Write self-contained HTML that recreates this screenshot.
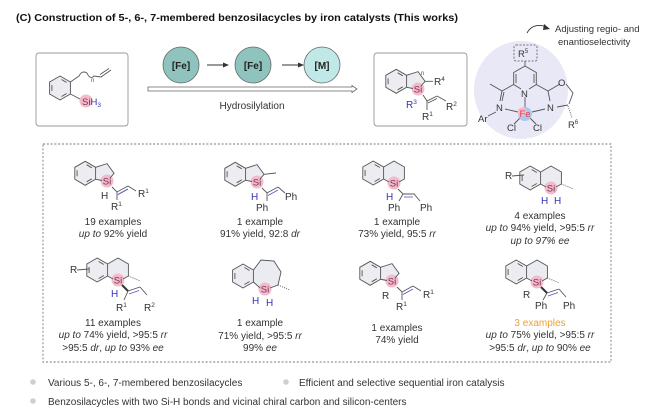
<!DOCTYPE html>
<html><head><meta charset="utf-8"><style>
html,body{margin:0;padding:0;background:#fff;}
svg{display:block;font-family:"Liberation Sans",Arial,sans-serif;}
</style></head><body>
<svg width="665" height="413" viewBox="0 0 665 413" xmlns="http://www.w3.org/2000/svg">
<defs>
<g id="bz"><polygon points="0,-12 10.4,-6 10.4,6 0,12 -10.4,6 -10.4,-6" fill="#ececf1" stroke="#555" stroke-width="0.9"/>
<path d="M1.5,-8.5L6.6,-5.5M6.6,5.5L1.5,8.5M-8.1,3L-8.1,-3" stroke="#555" stroke-width="0.9"/></g>
<g id="t5"><polygon points="-11.4,-15.7 0,-19.4 7.1,-9.7 0,0 -11.4,-3.7" fill="#ebebf2"/>
<use href="#bz" x="-21.8" y="-9.7"/><circle cx="0" cy="-2" r="6.5" fill="#f6b9ca"/>
<path d="M-11.4,-15.7L0,-19.4L7.1,-9.7L3,-5M-11.4,-3.7L-5,-2.5" fill="none" stroke="#555" stroke-width="0.9"/>
<text x="0" y="1.5" font-size="9.5" text-anchor="middle" fill="#6b3357">Si</text></g>
<g id="t6"><polygon points="-10.4,-18 0,-24 10.4,-18 10.4,-6 0,0 -10.4,-6" fill="#ebebf2"/>
<use href="#bz" x="-20.8" y="-12"/><circle cx="0" cy="-2" r="6.5" fill="#f6b9ca"/>
<path d="M-10.4,-18L0,-24L10.4,-18L10.4,-6L5,-3M-10.4,-6L-5,-3" fill="none" stroke="#555" stroke-width="0.9"/>
<text x="0" y="1.5" font-size="9.5" text-anchor="middle" fill="#6b3357">Si</text></g>
<g id="t7"><polygon points="-11.6,-21 -4,-31 9,-30 16,-19 13,-6 0,0 -11.6,-9" fill="#ebebf2"/>
<use href="#bz" x="-22" y="-15"/><circle cx="0" cy="-2" r="6.5" fill="#f6b9ca"/>
<path d="M-11.6,-21L-4,-31L9,-30L16,-19L13,-6L5,-3M-11.6,-9L-5,-3" fill="none" stroke="#555" stroke-width="0.9"/>
<text x="0" y="1.5" font-size="9.5" text-anchor="middle" fill="#6b3357">Si</text></g>
<g id="hm"><path d="M0,0L12,5" stroke="#555" stroke-width="0.9" stroke-dasharray="1,1.2"/></g>
</defs>

<text x="16" y="21" font-size="10.5" font-weight="bold" fill="#111" textLength="442" lengthAdjust="spacingAndGlyphs">(C) Construction of 5-, 6-, 7-membered benzosilacycles by iron catalysts (This works)</text>

<!-- box1 -->
<rect x="36" y="53" width="92" height="73" rx="3" fill="#fff" stroke="#999" stroke-width="0.9"/>
<use href="#bz" x="60" y="88"/>
<circle cx="86" cy="101" r="6.5" fill="#f6b9ca"/>
<text x="82" y="105" font-size="9.5" fill="#6b3357">Si<tspan fill="#3333bb">H</tspan><tspan fill="#3333bb" font-size="6.5" dy="2">3</tspan></text>
<path d="M70.4,82L79,76M79,76Q82,70 87,73M87,73Q90,80 94,76L101,77L111,70M100,74.5L109,68.5" fill="none" stroke="#555" stroke-width="0.9"/>
<text x="91" y="82" font-size="6" fill="#555">n</text>
<path d="M70.4,94L80,99" stroke="#555" stroke-width="0.9"/>

<!-- circles -->
<circle cx="181" cy="65" r="18" fill="#8fc3bd" stroke="#666" stroke-width="0.8"/>
<text x="181" y="69" font-size="10" font-weight="bold" text-anchor="middle" fill="#222">[Fe]</text>
<circle cx="253" cy="65" r="18" fill="#8fc3bd" stroke="#666" stroke-width="0.8"/>
<text x="253" y="69" font-size="10" font-weight="bold" text-anchor="middle" fill="#222">[Fe]</text>
<circle cx="322" cy="65" r="18" fill="#bfe8e6" stroke="#666" stroke-width="0.8"/>
<text x="322" y="69" font-size="10" font-weight="bold" text-anchor="middle" fill="#222">[M]</text>
<path d="M207,65L225,65M282,65L300,65" stroke="#333" stroke-width="0.9"/>
<path d="M229,65L223,62.5L223,67.5ZM304,65L298,62.5L298,67.5Z" fill="#333"/>
<path d="M148,87L352,87L352,85.5L357,89L352,92.5L352,91L148,91Z" fill="#fff" stroke="#666" stroke-width="0.8"/>
<text x="252" y="109" font-size="10" text-anchor="middle" fill="#333">Hydrosilylation</text>

<!-- box2 -->
<rect x="374" y="53" width="93" height="73" rx="3" fill="#fff" stroke="#999" stroke-width="0.9"/>
<g transform="translate(418,91)"><use href="#t5"/>
<path d="M7.1,-9.7L15,-9.7M5,4L9,10L19,5M10,12L19,7.5M19,5L28,10M9,10L9,19" fill="none" stroke="#555" stroke-width="0.9"/>
<text x="3" y="-16" font-size="6" fill="#555">n</text>
<text x="16" y="-6" font-size="10" fill="#333">R<tspan font-size="6.5" dy="-4">4</tspan></text>
<text x="-12" y="17" font-size="10" fill="#3333bb">R<tspan font-size="6.5" dy="-4">3</tspan></text>
<text x="4" y="29" font-size="10" fill="#333">R<tspan font-size="6.5" dy="-4">1</tspan></text>
<text x="28" y="19" font-size="10" fill="#333">R<tspan font-size="6.5" dy="-4">2</tspan></text></g>

<!-- ligand -->
<ellipse cx="521" cy="90" rx="47" ry="49" fill="#e8e8f6"/>
<path d="M527,33Q533,22 547,27" fill="none" stroke="#333" stroke-width="0.9"/>
<path d="M550,29L544,24L543,30Z" fill="#333"/>
<text x="555" y="32" font-size="9.5" fill="#333">Adjusting regio- and</text>
<text x="558" y="45" font-size="9.5" fill="#333">enantioselectivity</text>
<rect x="514" y="45" width="23" height="16" rx="2" fill="none" stroke="#555" stroke-width="0.8" stroke-dasharray="2,1.5"/>
<text x="518" y="57" font-size="9.5" fill="#333">R<tspan font-size="6" dy="-4">5</tspan></text>
<path d="M525,61L525,66L536.3,72.5L536.3,84.5L529,89M525,66L513.7,72.5L513.7,84.5L521,89M516,74L516,83M534,74L534,83M513.7,84.5L502,91L490,84M502,91L500,101M504,92L502,101M536.3,84.5L548,91L560,84M548,91L550,101M566,84L573,93L569,104M525,97L525,107M505,109L518,112M545,109L532,112M521,117L514,124M529,117L536,124M496,112L488,116M557,107L568,105" fill="none" stroke="#555" stroke-width="0.9"/>
<path d="M568,106L572,118" stroke="#555" stroke-width="0.9" stroke-dasharray="1,1.2"/>
<text x="521" y="97" font-size="9.5" fill="#333">N</text>
<text x="496" y="111" font-size="9.5" fill="#333">N</text>
<text x="547" y="111" font-size="9.5" fill="#333">N</text>
<text x="558" y="86" font-size="9.5" fill="#333">O</text>
<circle cx="525" cy="114" r="7" fill="#a9c9ef"/><circle cx="522" cy="112" r="4.5" fill="#f6b9ca"/>
<text x="525" y="117" font-size="9.5" text-anchor="middle" fill="#e04050">Fe</text>
<text x="478" y="122" font-size="9.5" fill="#333">Ar</text>
<text x="507" y="131" font-size="9.5" fill="#333">Cl</text>
<text x="533" y="131" font-size="9.5" fill="#333">Cl</text>
<text x="568" y="128" font-size="9.5" fill="#333">R<tspan font-size="6" dy="-4">6</tspan></text>

<!-- dashed box -->
<rect x="43" y="144" width="568" height="218" fill="none" stroke="#777" stroke-width="0.9" stroke-dasharray="2,1.8"/>

<g font-size="10" fill="#333">
<!-- r1c1 -->
<g transform="translate(107,183)"><use href="#t5"/>
<path d="M5,4L10,9L21,3M11,11.5L21,6M21,3L29,8M10,9L10,17" fill="none" stroke="#555" stroke-width="0.9"/>
<path d="M11,11.5L21,6" stroke="#5555cc" stroke-width="0.8"/>
<text x="-6" y="16">H</text><text x="31" y="14">R<tspan font-size="6.5" dy="-4">1</tspan></text>
<text x="4" y="27">R<tspan font-size="6.5" dy="-4">1</tspan></text></g>
<!-- r1c2 -->
<g transform="translate(257,184)"><use href="#t5"/>
<path d="M7.1,-9.7L19,-11M5,4L10,9L21,3M21,3L28,9M10,9L10,17" fill="none" stroke="#555" stroke-width="0.9"/>
<path d="M11,11.5L21,6" stroke="#5555cc" stroke-width="0.8"/>
<text x="-6" y="16" fill="#3333bb">H</text><text x="28" y="16">Ph</text><text x="-1" y="27">Ph</text></g>
<!-- r1c3 -->
<g transform="translate(394,185)"><use href="#t6"/>
<path d="M4,4L9,9L20,9L26,16M9,9L5,16" fill="none" stroke="#555" stroke-width="0.9"/>
<path d="M10,12L19,12" stroke="#5555cc" stroke-width="0.8"/>
<text x="-8" y="15" fill="#3333bb">H</text><text x="-6" y="26">Ph</text><text x="26" y="26">Ph</text></g>
<!-- r1c4 -->
<g transform="translate(551,190)"><use href="#t6"/><use href="#hm" x="10.4" y="-6"/>
<text x="-10" y="14" fill="#3333bb">H</text><text x="3" y="14" fill="#3333bb">H</text>
<text x="-46" y="-11">R</text><path d="M-39,-14L-27,-15" stroke="#555" stroke-width="0.9"/></g>

<text x="113" y="225" text-anchor="middle">19 examples</text>
<text x="113" y="237" text-anchor="middle"><tspan font-style="italic">up to</tspan> 92% yield</text>
<text x="260" y="225" text-anchor="middle">1 example</text>
<text x="260" y="237" text-anchor="middle">91% yield, 92:8 <tspan font-style="italic">dr</tspan></text>
<text x="397" y="225" text-anchor="middle">1 example</text>
<text x="397" y="237" text-anchor="middle">73% yield, 95:5 <tspan font-style="italic">rr</tspan></text>
<text x="540" y="219" text-anchor="middle">4 examples</text>
<text x="540" y="231" text-anchor="middle"><tspan font-style="italic">up to</tspan> 94% yield, &gt;95:5 <tspan font-style="italic">rr</tspan></text>
<text x="540" y="244" text-anchor="middle" font-style="italic">up to  97% ee</text>

<!-- r2c1 -->
<g transform="translate(118,282)"><use href="#t6"/><use href="#hm" x="10.4" y="-6"/>
<path d="M4,3L10,9" stroke="#333" stroke-width="2"/>
<path d="M10,9L22,5M22,5L29,13M10,9L6,18" fill="none" stroke="#555" stroke-width="0.9"/>
<path d="M11,12L21,8.5" stroke="#5555cc" stroke-width="0.8"/>
<text x="-7" y="15" fill="#3333bb">H</text><text x="-2" y="29">R<tspan font-size="6.5" dy="-4">1</tspan></text>
<text x="26" y="29">R<tspan font-size="6.5" dy="-4">2</tspan></text>
<text x="-48" y="-9">R</text><path d="M-41,-12L-29,-13" stroke="#555" stroke-width="0.9"/></g>
<!-- r2c2 -->
<g transform="translate(265,291)"><use href="#t7"/><use href="#hm" x="13" y="-6"/>
<text x="-13" y="13" fill="#3333bb">H</text><text x="1" y="15" fill="#3333bb">H</text></g>
<!-- r2c3 -->
<g transform="translate(392,283)"><use href="#t5"/>
<path d="M5,4L10,9L21,3M21,3L29,8M10,9L10,17" fill="none" stroke="#555" stroke-width="0.9"/>
<path d="M11,11.5L21,6" stroke="#5555cc" stroke-width="0.8"/>
<text x="-10" y="16">R</text><text x="31" y="15">R<tspan font-size="6.5" dy="-4">1</tspan></text>
<text x="4" y="27">R<tspan font-size="6.5" dy="-4">1</tspan></text></g>
<!-- r2c4 -->
<g transform="translate(537,284)"><use href="#t6"/><use href="#hm" x="10.4" y="-6"/>
<path d="M4,3L10,9" stroke="#333" stroke-width="2"/>
<path d="M10,9L22,5M22,5L29,13M10,9L6,16" fill="none" stroke="#555" stroke-width="0.9"/>
<path d="M11,12L21,8.5" stroke="#5555cc" stroke-width="0.8"/>
<text x="-14" y="14">R</text><text x="-2" y="25">Ph</text><text x="26" y="25">Ph</text></g>

<text x="113" y="326" text-anchor="middle">11 examples</text>
<text x="113" y="338" text-anchor="middle"><tspan font-style="italic">up to</tspan> 74% yield, &gt;95:5 <tspan font-style="italic">rr</tspan></text>
<text x="113" y="351" text-anchor="middle">&gt;95:5 <tspan font-style="italic">dr</tspan>, <tspan font-style="italic">up to</tspan>  93% <tspan font-style="italic">ee</tspan></text>
<text x="260" y="326" text-anchor="middle">1 example</text>
<text x="260" y="339" text-anchor="middle">71% yield, &gt;95:5 <tspan font-style="italic">rr</tspan></text>
<text x="260" y="351" text-anchor="middle">99% <tspan font-style="italic">ee</tspan></text>
<text x="397" y="331" text-anchor="middle">1 examples</text>
<text x="397" y="343" text-anchor="middle">74% yield</text>
<text x="540" y="326" text-anchor="middle" fill="#f0a030">3 examples</text>
<text x="540" y="338" text-anchor="middle"><tspan font-style="italic">up to</tspan> 75% yield, &gt;95:5 <tspan font-style="italic">rr</tspan></text>
<text x="540" y="351" text-anchor="middle">&gt;95:5 <tspan font-style="italic">dr</tspan>, <tspan font-style="italic">up to</tspan>  90% <tspan font-style="italic">ee</tspan></text>
</g>

<!-- bullets -->
<circle cx="33" cy="382" r="2.8" fill="#cfcfcf"/>
<circle cx="286" cy="382" r="2.8" fill="#cfcfcf"/>
<circle cx="33" cy="401" r="2.8" fill="#cfcfcf"/>
<g font-size="10" fill="#333">
<text x="48" y="386">Various 5-, 6-, 7-membered benzosilacycles</text>
<text x="299" y="386">Efficient and selective sequential iron catalysis</text>
<text x="48" y="405">Benzosilacycles with two Si-H bonds and vicinal chiral carbon and silicon-centers</text>
</g>
</svg>
</body></html>
